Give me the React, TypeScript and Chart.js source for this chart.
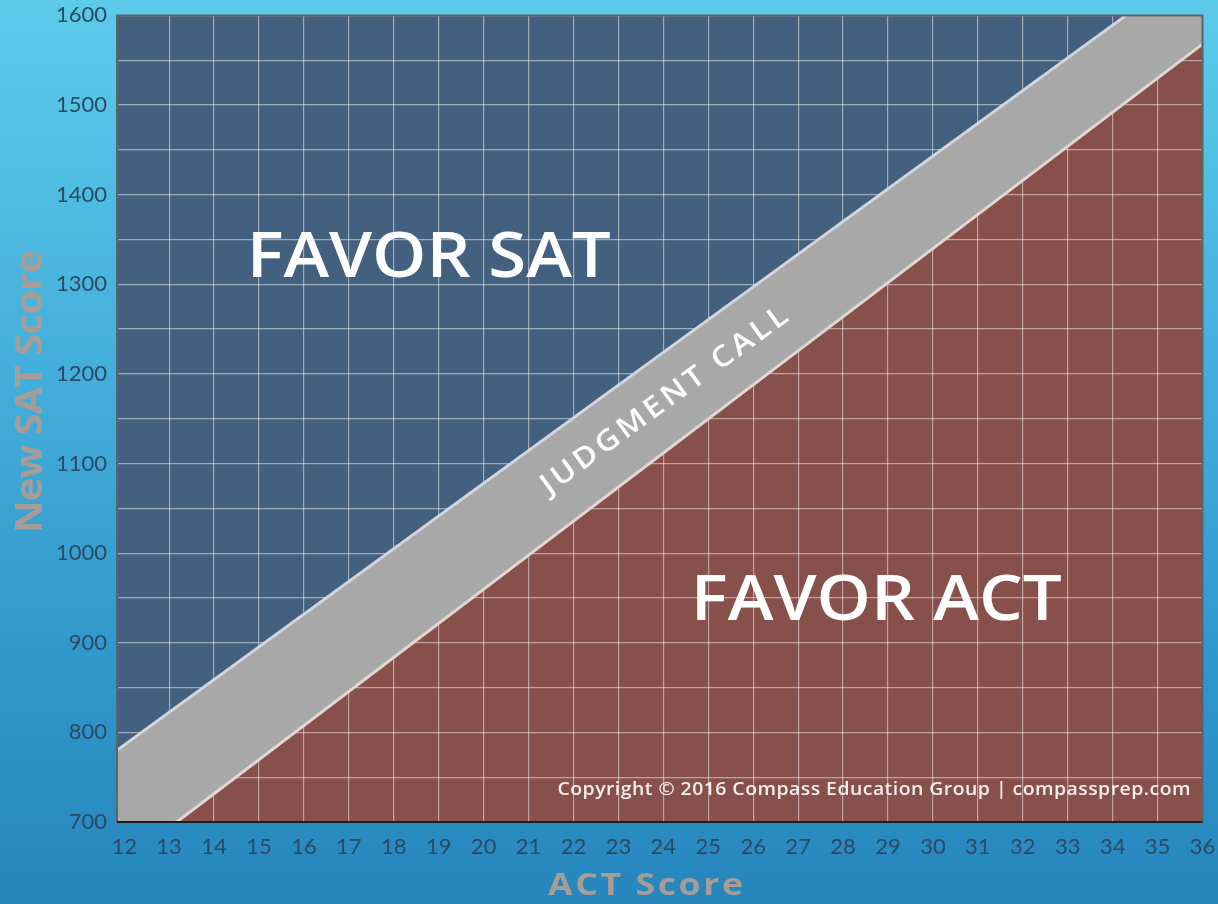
import React, { useEffect, useRef } from "react";
import { Chart, registerables } from "chart.js";

Chart.register(...registerables);

// ---- data ----
const actTicks = [12, 13, 14, 15, 16, 17, 18, 19, 20, 21, 22, 23, 24, 25, 26, 27, 28, 29, 30, 31, 32, 33, 34, 35, 36];
const satGrid = [700, 750, 800, 850, 900, 950, 1000, 1050, 1100, 1150, 1200, 1250, 1300, 1350, 1400, 1450, 1500, 1550, 1600];
const actMin = 11.84;
const actMax = 36;
const satMin = 700;
const satMax = 1600;

// upper edge of the "judgment call" band (above it: favor SAT)
const upperEdgeACT = [11.84, 34.3, 36];
const upperEdgeSAT = [780, 1600, 1662];
// lower edge of the band (below it: favor ACT)
const lowerEdgeACT = [11.84, 13.17, 36];
const lowerEdgeSAT = [650, 700, 1568];

const favorSat = { text: "FAVOR SAT", act: 18.78, sat: 1308 };
const favorAct = { text: "FAVOR ACT", act: 28.74, sat: 925 };
const bandText = { text: "JUDGMENT CALL", act: 24.0, sat: 1172 };
const copyrightText = "Copyright \u00A9 2016 Compass Education Group | compassprep.com";
const xTitle = "ACT Score";
const yTitle = "New SAT Score";

const TICK_FONT = "Lato, 'Open Sans', sans-serif";
const FONT = "'Open Sans', Lato, sans-serif";

function drawSpaced(
  ctx: CanvasRenderingContext2D,
  text: string,
  cx: number,
  baseY: number,
  font: string,
  width: number,
  color: string,
  hScale = 1.08
) {
  ctx.save();
  ctx.font = font;
  (ctx as any).letterSpacing = "0px";
  const w = ctx.measureText(text).width;
  const ls = (width / hScale - w) / (text.length - 1);
  (ctx as any).letterSpacing = ls + "px";
  ctx.fillStyle = color;
  ctx.textAlign = "left";
  ctx.textBaseline = "alphabetic";
  ctx.translate(cx - width / 2, baseY);
  ctx.scale(hScale, 1);
  ctx.fillText(text, 0, 0);
  ctx.restore();
}

const bandPlugin = {
  id: "bandFill",
  beforeDatasetsDraw(chart: any) {
    const up = chart.getDatasetMeta(0).data;
    const lo = chart.getDatasetMeta(1).data;
    const { ctx, chartArea: a } = chart;
    ctx.save();
    ctx.beginPath();
    ctx.rect(a.left, a.top, a.right - a.left, a.bottom - a.top);
    ctx.clip();
    ctx.beginPath();
    up.forEach((p: any, i: number) => (i ? ctx.lineTo(p.x, p.y) : ctx.moveTo(p.x, p.y)));
    for (let i = lo.length - 1; i >= 0; i--) ctx.lineTo(lo[i].x, lo[i].y);
    ctx.closePath();
    ctx.fillStyle = "#a8a8a8";
    ctx.fill();
    ctx.restore();
  },
};

const textPlugin = {
  id: "texts",
  afterDatasetsDraw(chart: any) {
    const { ctx, scales } = chart;
    const sx = scales.x;
    const sy = scales.y;
    drawSpaced(ctx, favorSat.text, sx.getPixelForValue(favorSat.act), sy.getPixelForValue(favorSat.sat), `600 64px ${FONT}`, 364, "#ffffff");
    drawSpaced(ctx, favorAct.text, sx.getPixelForValue(favorAct.act), sy.getPixelForValue(favorAct.sat), `600 64px ${FONT}`, 371, "#ffffff");

    // rotated band label, angle taken from the band's upper edge
    const up = chart.getDatasetMeta(0).data;
    const ang = Math.atan2(up[1].y - up[0].y, up[1].x - up[0].x);
    ctx.save();
    ctx.translate(sx.getPixelForValue(bandText.act), sy.getPixelForValue(bandText.sat));
    ctx.rotate(ang);
    drawSpaced(ctx, bandText.text, 0, 10.5, `600 29px ${FONT}`, 298, "#ffffff", 1.1);
    ctx.restore();

    const a = chart.chartArea;
    drawSpaced(ctx, copyrightText, a.right - 12 - 633 / 2, 795, `600 18px ${FONT}`, 633, "#f4eeec");
  },
  afterDraw(chart: any) {
    const { ctx, chartArea: a } = chart;
    ctx.save();
    ctx.strokeStyle = "#5c636c";
    ctx.lineWidth = 2;
    ctx.strokeRect(a.left, a.top, a.right - a.left, a.bottom - a.top);
    ctx.strokeStyle = "#1e1e1e";
    ctx.beginPath();
    ctx.moveTo(a.left, a.bottom);
    ctx.lineTo(a.right, a.bottom);
    ctx.stroke();

    // axis titles
    drawSpaced(ctx, xTitle, 645.5, 895, `700 31px ${FONT}`, 195, "#a69d97", 1.15);
    ctx.translate(42, 391.5);
    ctx.rotate(-Math.PI / 2);
    drawSpaced(ctx, yTitle, 0, 0, `700 37px ${FONT}`, 283, "#a69d97");
    ctx.restore();
  },
};

const gridColor = "rgba(255,255,255,0.48)";

export default function App() {
  const ref = useRef<HTMLCanvasElement>(null);
  useEffect(() => {
    document.body.style.margin = "0";
    const chart = new Chart(ref.current as HTMLCanvasElement, {
      type: "line",
      data: {
        datasets: [
          {
            label: "Favor SAT boundary",
            data: upperEdgeACT.map((x, i) => ({ x, y: upperEdgeSAT[i] })),
            borderColor: "#d4d4dc",
            borderWidth: 3,
            backgroundColor: "#44607f",
            fill: "end",
            pointRadius: 0,
            tension: 0,
          },
          {
            label: "Favor ACT boundary",
            data: lowerEdgeACT.map((x, i) => ({ x, y: lowerEdgeSAT[i] })),
            borderColor: "#e2d7d3",
            borderWidth: 3,
            backgroundColor: "#87504b",
            fill: "start",
            pointRadius: 0,
            tension: 0,
          },
        ],
      },
      options: {
        responsive: false,
        animation: false,
        layout: { padding: { left: 0, right: 15.5, top: 15.4, bottom: 0 } },
        plugins: {
          legend: { display: false },
          tooltip: { enabled: false },
          filler: { drawTime: "beforeDraw" },
        } as any,
        scales: {
          x: {
            type: "linear",
            min: actMin,
            max: actMax,
            afterBuildTicks: (s: any) => {
              s.ticks = actTicks.map((v) => ({ value: v }));
            },
            afterFit: (s: any) => {
              s.height = 82;
              s.paddingLeft = 0;
              s.paddingRight = 0;
            },
            grid: {
              color: (c: any) =>
                c.tick && (c.tick.value === actTicks[0] || c.tick.value === actTicks[actTicks.length - 1])
                  ? "rgba(0,0,0,0)"
                  : gridColor,
              lineWidth: 1.2,
              drawTicks: false,
            },
            border: { display: false },
            ticks: {
              autoSkip: false,
              maxRotation: 0,
              padding: 12,
              color: "#2c4a62",
              font: { family: TICK_FONT, size: 22 },
            },
          },
          y: {
            type: "linear",
            min: satMin,
            max: satMax,
            afterBuildTicks: (s: any) => {
              s.ticks = satGrid.map((v) => ({ value: v }));
            },
            afterFit: (s: any) => {
              s.width = 117;
              s.paddingTop = 0;
              s.paddingBottom = 0;
            },
            grid: { color: gridColor, lineWidth: 1.2, drawTicks: false },
            border: { display: false },
            ticks: {
              autoSkip: false,
              padding: 10,
              color: "#2c4a62",
              font: { family: TICK_FONT, size: 22 },
              callback: (v: any) => (Number(v) % 100 === 0 ? String(v) : ""),
            },
          },
        },
      } as any,
      plugins: [bandPlugin, textPlugin],
    } as any);
    return () => chart.destroy();
  }, []);

  return (
    <div
      style={{
        width: 1218,
        height: 904,
        background: "linear-gradient(180deg, #5ccbea 0%, #44afdc 40%, #2f96cb 75%, #2686bd 100%)",
      }}
    >
      <canvas ref={ref} width={1218} height={904} style={{ display: "block" }} />
    </div>
  );
}
